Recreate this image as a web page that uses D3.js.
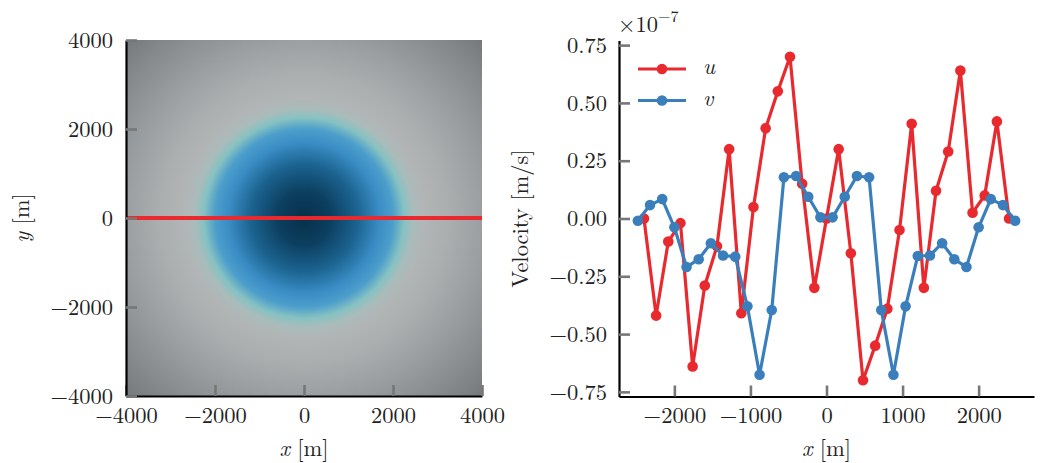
<!DOCTYPE html>
<html><head><meta charset="utf-8">
<script src="https://cdn.jsdelivr.net/npm/d3@7"></script>
<style>body{margin:0;background:#fff}</style>
</head><body>
<svg id="c" width="1041" height="463"></svg>
<script>
// ---------- data ----------
const vX = [-2480,-2320,-2160,-2000,-1840,-1680,-1520,-1360,-1200,-1040,-880,-720,-560,-400,-240,-80,80,240,400,560,720,880,1040,1200,1360,1520,1680,1840,2000,2160,2320,2480];
const uX = [-2400,-2240,-2080,-1920,-1760,-1600,-1440,-1280,-1120,-960,-800,-640,-480,-320,-160,0,160,320,480,640,800,960,1120,1280,1440,1600,1760,1920,2080,2240,2400];
const uVals = [0.00,-0.42,-0.10,-0.02,-0.64,-0.29,-0.12,0.30,-0.41,0.05,0.39,0.55,0.70,0.15,-0.30,0.00,0.30,-0.15,-0.70,-0.55,-0.39,-0.05,0.41,-0.30,0.12,0.29,0.64,0.025,0.10,0.42,0.00];
const vVals = [-0.01,0.058,0.084,-0.038,-0.21,-0.176,-0.107,-0.16,-0.165,-0.38,-0.676,-0.396,0.178,0.184,0.094,0.005,0.005,0.094,0.184,0.178,-0.396,-0.676,-0.38,-0.162,-0.16,-0.107,-0.176,-0.21,-0.038,0.084,0.058,-0.01];
const mapTicks = [-4000,-2000,0,2000,4000];
const velXTicks = [-2000,-1000,0,1000,2000];
const velYTicks = [-0.75,-0.5,-0.25,0,0.25,0.5,0.75];
const sectionY = 0;
// field colour by distance from centre (m)
const fieldR = [0,600,1200,1700,2000,2250,2450,2700,3200,4000,5000,5657];
const fieldC = ["#07304b","#0c3f60","#1b6390","#3a8dc5","#4c9ecb","#86c2c2","#a9bcbb","#b2b5b6","#acafb0","#9c9fa1","#86898b","#76797b"];
const seriesNames = ["u","v"];

// ---------- styles ----------
const FONT = '"Latin Modern Roman","CMU Serif","Liberation Serif",serif';
const RED = "#e8292e", BLUE = "#3a7fbc", TICK = "#777", FS = 22.5, TXT = "#222";
const svg = d3.select("#c");

function styleAxis(g){
  g.attr("font-family",null).attr("font-size",null);
  g.select(".domain").attr("stroke","#000").attr("stroke-width",2.2);
  g.selectAll(".tick line").attr("stroke",TICK).attr("stroke-width",2.6);
  g.selectAll(".tick text").style("font-size",FS+"px").style("font-family",FONT).attr("fill",TXT);
}
function label(x,y,rot,parts){
  const t = svg.append("text").attr("transform",`translate(${x},${y})${rot?" rotate(-90)":""}`)
    .attr("text-anchor","middle").style("font-family",FONT).style("font-size",FS+"px").attr("fill",TXT);
  parts.forEach(p=>t.append("tspan").style("font-style",p[1]?"italic":"normal").text(p[0]));
  return t;
}

// ---------- left panel ----------
const lx = d3.scaleLinear().domain([-4000,4000]).range([126,482]);
const ly = d3.scaleLinear().domain([-4000,4000]).range([396,40]);
const defs = svg.append("defs");
const rMax = fieldR[fieldR.length-1];
const grad = defs.append("radialGradient").attr("id","field")
  .attr("gradientUnits","userSpaceOnUse")
  .attr("cx",lx(0)).attr("cy",ly(0)).attr("fx",lx(0)).attr("fy",ly(0))
  .attr("r",lx(rMax) - lx(0));
grad.selectAll("stop").data(fieldR).join("stop")
  .attr("offset",d=>d/rMax).attr("stop-color",(d,i)=>fieldC[i]);
svg.append("rect").attr("x",lx(-4000)).attr("y",ly(4000))
  .attr("width",lx(4000)-lx(-4000)).attr("height",ly(-4000)-ly(4000))
  .attr("fill","url(#field)");
svg.append("line").attr("x1",lx(-4000)).attr("x2",lx(4000))
  .attr("y1",ly(sectionY)).attr("y2",ly(sectionY))
  .attr("stroke",RED).attr("stroke-width",4);

const lax = svg.append("g").attr("transform",`translate(0,${ly(-4000)})`)
  .call(d3.axisBottom(lx).tickValues(mapTicks).tickSizeInner(-11).tickSizeOuter(0).tickPadding(11).tickFormat(d3.format("d")));
styleAxis(lax);
const lay = svg.append("g").attr("transform",`translate(${lx(-4000)},0)`)
  .call(d3.axisLeft(ly).tickValues(mapTicks).tickSizeInner(-11).tickSizeOuter(0).tickPadding(13).tickFormat(d3.format("d")));
styleAxis(lay);

label(lx(0),456,false,[["x",true],[" [m]",false]]);
label(29,ly(0),true,[["y",true],[" [m]",false]]);

// ---------- right panel ----------
const rx = d3.scaleLinear().domain([-2728,2728]).range([619,1034]);
const ry = d3.scaleLinear().domain([-0.77,0.77]).range([396.5,40.5]);

const rax = svg.append("g").attr("transform",`translate(0,${ry(-0.77)})`)
  .call(d3.axisBottom(rx).tickValues(velXTicks).tickSizeInner(-11).tickSizeOuter(0).tickPadding(11).tickFormat(d3.format("d")));
styleAxis(rax);
const ray = svg.append("g").attr("transform",`translate(${rx(-2728)},0)`)
  .call(d3.axisLeft(ry).tickValues(velYTicks).tickSizeInner(-11).tickSizeOuter(0).tickPadding(12).tickFormat(d3.format(".2f")));
styleAxis(ray);

const series = [
  {name:seriesNames[0], xs:uX, ys:uVals, color:RED},
  {name:seriesNames[1], xs:vX, ys:vVals, color:BLUE}
];
const line = d3.line().x(d=>rx(d[0])).y(d=>ry(d[1]));
series.forEach(s=>{
  const pts = s.xs.map((x,i)=>[x,s.ys[i]]);
  const g = svg.append("g");
  g.append("path").datum(pts).attr("d",line).attr("fill","none")
    .attr("stroke",s.color).attr("stroke-width",3.2).attr("stroke-linejoin","round");
  g.selectAll("circle").data(pts).join("circle")
    .attr("cx",d=>rx(d[0])).attr("cy",d=>ry(d[1])).attr("r",5.3).attr("fill",s.color);
});

// legend
series.forEach((s,i)=>{
  const y = 69 + i*31.5;
  svg.append("line").attr("x1",638).attr("x2",686).attr("y1",y).attr("y2",y)
    .attr("stroke",s.color).attr("stroke-width",3.2);
  svg.append("circle").attr("cx",662).attr("cy",y).attr("r",5.3).attr("fill",s.color);
  svg.append("text").attr("x",703).attr("y",y+5).style("font-family",FONT).style("font-size",FS+"px")
    .style("font-style","italic").attr("fill",TXT).text(s.name);
});

// offset text
const off = svg.append("text").attr("x",618).attr("y",32).style("font-family",FONT).style("font-size",FS+"px").attr("fill",TXT);
off.append("tspan").text("×10");
off.append("tspan").style("font-size","16px").attr("dy",-10).text("−7");

label(rx(0),456,false,[["x",true],[" [m]",false]]);
label(528,ry(0),true,[["Velocity [m/s]",false]]);
</script>
</body></html>
